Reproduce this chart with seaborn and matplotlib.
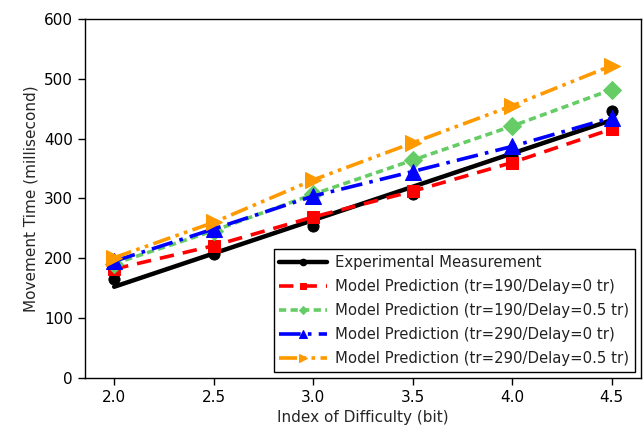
import numpy as np
import pandas as pd
import matplotlib
matplotlib.use("Agg")
import matplotlib.pyplot as plt
import seaborn as sns
from matplotlib.lines import Line2D

# ------------------------------------------------------------------
# dados
# ------------------------------------------------------------------
indice_dificuldade = [2.0, 2.5, 3.0, 3.5, 4.0, 4.5]
medido = [165, 207, 254, 307, 371, 446]
pred_190_0 = [182, 221, 269, 312, 360, 416]
pred_190_05 = [191, 246, 307, 364, 421, 482]
pred_290_0 = [195, 249, 304, 345, 387, 435]
pred_290_05 = [201, 260, 331, 393, 455, 522]

rotulos = [
    "Model Prediction (tr=190/Delay=0 tr)",
    "Model Prediction (tr=190/Delay=0.5 tr)",
    "Model Prediction (tr=290/Delay=0 tr)",
    "Model Prediction (tr=290/Delay=0.5 tr)",
]

# ------------------------------------------------------------------
# estilo
# ------------------------------------------------------------------
sns.set_theme(style="ticks")
plt.rcParams.update({
    "font.family": ["DejaVu Sans"],
    "axes.edgecolor": "black",
    "axes.linewidth": 1.0,
    "xtick.color": "black",
    "ytick.color": "black",
    "text.color": "#222222",
})

fig, ax = plt.subplots(figsize=(6.43, 4.30), dpi=100)
fig.subplots_adjust(left=0.132, right=0.997, top=0.956, bottom=0.121)

df_medido = pd.DataFrame({"id": indice_dificuldade, "mt": medido})

# linha de regressão + pontos medidos
sns.regplot(data=df_medido, x="id", y="mt", ax=ax, ci=None, truncate=True,
            scatter=False, color="black", line_kws={"linewidth": 3.2})
sns.scatterplot(data=df_medido, x="id", y="mt", ax=ax, color="black",
                s=65, edgecolor="black", zorder=3, legend=False)

series = [pred_190_0, pred_190_05, pred_290_0, pred_290_05]
cores = ["#ff0000", "#66cc66", "#0000ff", "#ff9900"]
marcadores = ["s", "D", "^", ">"]
tamanhos = [9, 9, 11, 12]
tracos = [(4, 2.5), (2, 1.2), (6, 2, 1, 2), (5, 1.5, 1, 1.5, 1, 1.5)]

for valores, rotulo, cor, mk, ms, dash in zip(series, rotulos, cores, marcadores, tamanhos, tracos):
    sns.lineplot(x=indice_dificuldade, y=valores, ax=ax, color=cor, marker=mk,
                 markersize=ms, markeredgecolor=cor, linewidth=2.6,
                 label=rotulo, zorder=4)
    ax.lines[-1].set_dashes(dash)

ax.set_xlim(1.853, 4.647)
ax.set_ylim(0, 600)
ax.set_xticks(indice_dificuldade)
ax.set_xticklabels([f"{v:.1f}" for v in indice_dificuldade])
ax.set_yticks(range(0, 601, 100))
ax.tick_params(labelsize=11, length=5, width=1)
ax.set_xlabel("Index of Difficulty (bit)", fontsize=11)
ax.set_ylabel("Movement Time (millisecond)", fontsize=11)

handles, labels = ax.get_legend_handles_labels()
h_medido = Line2D([], [], color="black", linewidth=3.2, marker="o", markersize=9)
leg = ax.legend([h_medido] + handles, ["Experimental Measurement"] + labels,
                loc="lower right", fontsize=10.7, markerscale=0.5,
                handlelength=3.2, handletextpad=0.55, fancybox=False,
                framealpha=1, edgecolor="black", borderaxespad=0.4,
                labelspacing=0.6)
leg.get_frame().set_linewidth(1.0)

fig.savefig("out.png", dpi=100)
